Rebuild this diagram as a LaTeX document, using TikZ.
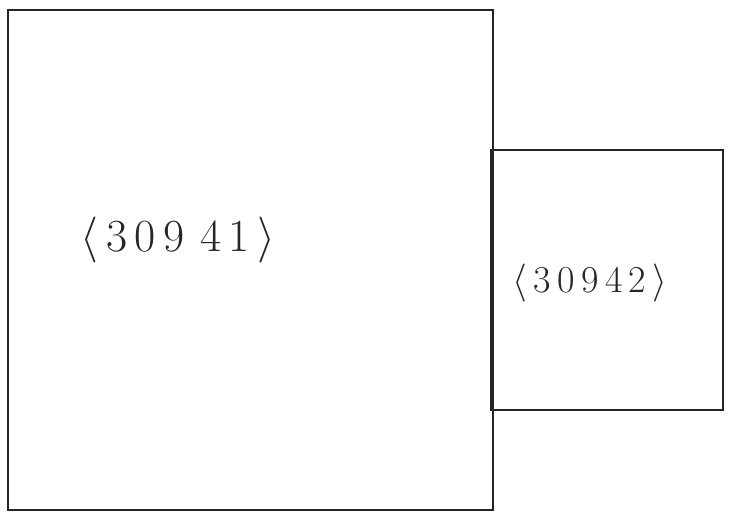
\RequirePackage{fix-cm}
\documentclass[tikz,border=0pt]{standalone}
\begin{document}
\begin{tikzpicture}[x=1pt,y=1pt,
  box/.style={draw=black!85,line width=1.3pt,minimum width=#1},
  lbl/.style={text=black!85}]
\useasboundingbox (0,0) rectangle (729,518);
\node[box=485pt,minimum height=500pt,inner sep=0pt] (big) at (250.5,258) {};
\node[box=232pt,minimum height=260pt,inner sep=0pt] (small) at (607,238) {};
\node[lbl,font=\fontsize{46}{52}\selectfont] (l1) at (178,278) {$\langle$\,3\,0\,9\,\,4\,1\,$\rangle$};
\node[lbl,font=\fontsize{38}{44}\selectfont] (l2) at (590,235) {$\langle$\,3\,0\,9\,4\,2\,$\rangle$};
\end{tikzpicture}
\end{document}
